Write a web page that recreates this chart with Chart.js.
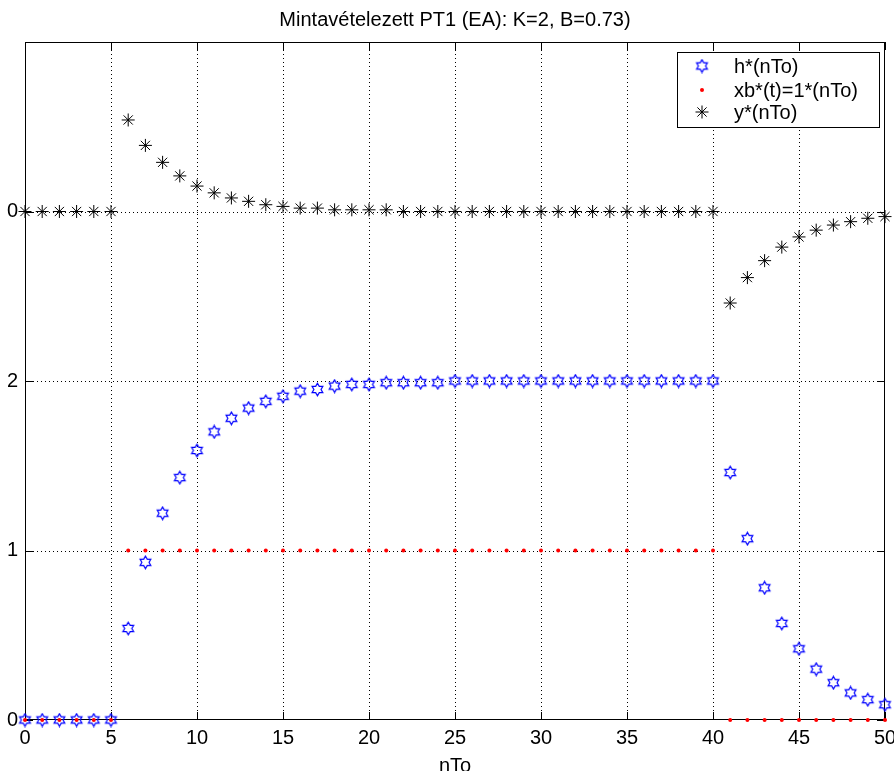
<!DOCTYPE html>
<html>
<head>
<meta charset="utf-8">
<title>Mintavételezett PT1</title>
<script src="https://cdn.jsdelivr.net/npm/chart.js@4.4.0/dist/chart.umd.min.js"></script>
<style>
    html, body { margin: 0; padding: 0; background: #fff; }
    #wrap { width: 894px; height: 771px; }
</style>
</head>
<body>
<div id="wrap"><canvas id="pt1Chart" width="894" height="771"></canvas></div>
<script>
// Mintavételi pontok (n)
const nSamples = [0, 1, 2, 3, 4, 5, 6, 7, 8, 9, 10, 11, 12, 13, 14, 15, 16, 17, 18, 19, 20,
    21, 22, 23, 24, 25, 26, 27, 28, 29, 30, 31, 32, 33, 34, 35, 36, 37, 38, 39, 40,
    41, 42, 43, 44, 45, 46, 47, 48, 49, 50];

// h*(nTo) - átmeneti függvény
const hValues = [0, 0, 0, 0, 0, 0, 0.54, 0.93, 1.22, 1.43, 1.59, 1.70, 1.78, 1.84, 1.88, 1.91,
    1.94, 1.95, 1.97, 1.98, 1.98, 1.99, 1.99, 1.99, 1.99, 2.00, 2.00, 2.00, 2.00, 2.00, 2.00,
    2.00, 2.00, 2.00, 2.00, 2.00, 2.00, 2.00, 2.00, 2.00, 2.00,
    1.46, 1.07, 0.78, 0.57, 0.42, 0.30, 0.22, 0.16, 0.12, 0.09];

// xb*(t) = 1*(nTo) - bemenet
const xbValues = [0, 0, 0, 0, 0, 0, 1, 1, 1, 1, 1, 1, 1, 1, 1, 1, 1, 1, 1, 1, 1,
    1, 1, 1, 1, 1, 1, 1, 1, 1, 1, 1, 1, 1, 1, 1, 1, 1, 1, 1, 1,
    0, 0, 0, 0, 0, 0, 0, 0, 0, 0];

// y*(nTo) - súlyfüggvény, eltolva a 3-as szintre
const yStarValues = [0, 0, 0, 0, 0, 0, 0.54, 0.39, 0.29, 0.21, 0.15, 0.11, 0.08, 0.06, 0.04, 0.03,
    0.02, 0.02, 0.01, 0.01, 0.01, 0.01, 0, 0, 0, 0, 0, 0, 0, 0, 0,
    0, 0, 0, 0, 0, 0, 0, 0, 0, 0,
    -0.54, -0.39, -0.29, -0.21, -0.15, -0.11, -0.08, -0.06, -0.04, -0.03];
const yStarOffset = 3;

const xTickStep = 5;
const yTickValues = [0, 1, 2, 3];
const yTickLabels = ['0', '1', '2', '0'];

const legendLabels = ['h*(nTo)', 'xb*(t)=1*(nTo)', 'y*(nTo)'];

Chart.defaults.font.family = '"Liberation Sans", Arial, sans-serif';
Chart.defaults.font.size = 20;
Chart.defaults.color = '#000';

// hexagram jelölő (Matlab 'h' marker)
function makeHexagram(color) {
    const c = document.createElement('canvas');
    c.width = 15;
    c.height = 15;
    const g = c.getContext('2d');
    const R = 6.2, r = R / Math.sqrt(3);
    g.translate(7.5, 7.5);
    g.beginPath();
    for (let i = 0; i < 12; i++) {
        const a = -Math.PI / 2 + i * Math.PI / 6;
        const rad = i % 2 === 0 ? R : r;
        const px = rad * Math.cos(a), py = rad * Math.sin(a);
        if (i === 0) g.moveTo(px, py); else g.lineTo(px, py);
    }
    g.closePath();
    g.strokeStyle = color;
    g.lineWidth = 1.2;
    g.stroke();
    return c;
}
const hexMarker = makeHexagram('#0000ff');

function toPoints(values, offset) {
    return nSamples.map((n, i) => ({ x: n, y: values[i] + (offset || 0) }));
}

// rács, keret és befelé álló osztások
const matlabAxes = {
    id: 'matlabAxes',
    beforeDatasetsDraw(chart) {
        const { ctx, chartArea: a, scales: { x, y } } = chart;
        const tick = 8;
        ctx.save();
        ctx.strokeStyle = '#000';
        ctx.lineWidth = 1;
        ctx.setLineDash([1, 3]);
        x.ticks.forEach(t => {
            if (t.value <= x.min || t.value >= x.max) return;
            const px = Math.round(x.getPixelForValue(t.value)) + 0.5;
            ctx.beginPath(); ctx.moveTo(px, a.top); ctx.lineTo(px, a.bottom); ctx.stroke();
        });
        y.ticks.forEach(t => {
            if (t.value <= y.min || t.value >= y.max) return;
            const py = Math.round(y.getPixelForValue(t.value)) + 0.5;
            ctx.beginPath(); ctx.moveTo(a.left, py); ctx.lineTo(a.right, py); ctx.stroke();
        });
        ctx.setLineDash([]);
        x.ticks.forEach(t => {
            const px = Math.round(x.getPixelForValue(t.value)) + 0.5;
            ctx.beginPath();
            ctx.moveTo(px, a.bottom); ctx.lineTo(px, a.bottom - tick);
            ctx.moveTo(px, a.top); ctx.lineTo(px, a.top + tick);
            ctx.stroke();
        });
        y.ticks.forEach(t => {
            const py = Math.round(y.getPixelForValue(t.value)) + 0.5;
            ctx.beginPath();
            ctx.moveTo(a.left, py); ctx.lineTo(a.left + tick, py);
            ctx.moveTo(a.right, py); ctx.lineTo(a.right - tick, py);
            ctx.stroke();
        });
        ctx.strokeRect(a.left + 0.5, a.top + 0.5, a.width - 1, a.height - 1);
        ctx.restore();
    }
};

// jelmagyarázat a rajzterület jobb felső sarkában
const boxLegend = {
    id: 'boxLegend',
    afterDraw(chart) {
        const { ctx, chartArea: a } = chart;
        const w = 202, h = 75;
        const left = a.right - 6 - w, top = a.top + 10;
        const rows = [top + 14, top + 38, top + 60];
        ctx.save();
        ctx.fillStyle = '#fff';
        ctx.fillRect(left, top, w, h);
        ctx.strokeStyle = '#000';
        ctx.lineWidth = 1;
        ctx.strokeRect(left + 0.5, top + 0.5, w, h);
        const mx = left + 25;
        // h*
        ctx.drawImage(hexMarker, mx - hexMarker.width / 2, rows[0] - hexMarker.height / 2);
        // xb*
        ctx.fillStyle = '#ff0000';
        ctx.beginPath(); ctx.arc(mx, rows[1], 2, 0, Math.PI * 2); ctx.fill();
        // y*
        ctx.strokeStyle = '#000';
        ctx.beginPath();
        for (let i = 0; i < 4; i++) {
            const ang = i * Math.PI / 4;
            ctx.moveTo(mx - 6.5 * Math.cos(ang), rows[2] - 6.5 * Math.sin(ang));
            ctx.lineTo(mx + 6.5 * Math.cos(ang), rows[2] + 6.5 * Math.sin(ang));
        }
        ctx.stroke();
        ctx.fillStyle = '#000';
        ctx.font = '20px "Liberation Sans", Arial, sans-serif';
        ctx.textBaseline = 'middle';
        ctx.textAlign = 'left';
        legendLabels.forEach((txt, i) => ctx.fillText(txt, left + 57, rows[i] + 1));
        ctx.restore();
    }
};

const ctx = document.getElementById('pt1Chart').getContext('2d');
new Chart(ctx, {
    type: 'scatter',
    data: {
        datasets: [
            {
                label: legendLabels[0],
                data: toPoints(hValues),
                pointStyle: hexMarker,
                pointRadius: 6,
                order: 3
            },
            {
                label: legendLabels[1],
                data: toPoints(xbValues),
                pointStyle: 'circle',
                pointRadius: 2,
                pointBorderWidth: 0,
                backgroundColor: '#ff0000',
                borderColor: '#ff0000',
                order: 1
            },
            {
                label: legendLabels[2],
                data: toPoints(yStarValues, yStarOffset),
                pointStyle: 'star',
                pointRadius: 6.5,
                pointBorderWidth: 1,
                borderColor: '#000',
                backgroundColor: '#000',
                order: 2
            }
        ]
    },
    options: {
        responsive: false,
        animation: false,
        clip: false,
        layout: { padding: { left: 0, right: 9, top: 0, bottom: -5 } },
        scales: {
            x: {
                type: 'linear',
                min: 0,
                max: 50,
                grid: { display: false, drawTicks: false },
                border: { display: false },
                ticks: { stepSize: xTickStep, autoSkip: false, maxRotation: 0, padding: 6 },
                title: { display: true, text: 'nTo', padding: { top: 0, bottom: 0 }, font: { size: 20, lineHeight: 1 } },
                afterFit: scale => {
                    scale.height = 56;
                    scale.paddingLeft = 0;
                    scale.paddingRight = 0;
                }
            },
            y: {
                min: 0,
                max: 4,
                grid: { display: false, drawTicks: false },
                border: { display: false },
                afterBuildTicks: scale => { scale.ticks = yTickValues.map(v => ({ value: v })); },
                ticks: {
                    padding: 7,
                    callback: value => yTickLabels[yTickValues.indexOf(value)]
                },
                afterFit: scale => {
                    scale.width = 25;
                    scale.paddingTop = 0;
                    scale.paddingBottom = 0;
                }
            }
        },
        plugins: {
            legend: { display: false },
            tooltip: { enabled: false },
            title: {
                display: true,
                fullSize: false,
                text: 'Mintavételezett PT1 (EA): K=2, B=0.73)',
                font: { size: 20, weight: 'normal', lineHeight: 1.2 },
                padding: { top: 8, bottom: 10 }
            }
        }
    },
    plugins: [matlabAxes, boxLegend]
});
</script>
</body>
</html>
